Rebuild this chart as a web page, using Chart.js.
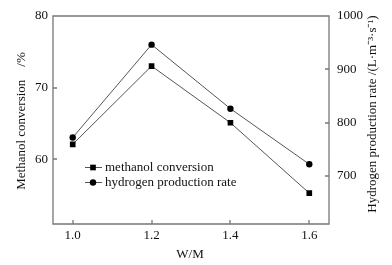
<!DOCTYPE html>
<html lang="en">
  <head>
    <meta charset="UTF-8" />
    <title>Chart</title>
    <script src="https://cdn.jsdelivr.net/npm/chart.js"></script>
    <style>
      html, body { margin: 0; padding: 0; background: #fff; }
      .chart-box { width: 392px; height: 265px; }
    </style>
  </head>
  <body>
    <div class="chart-box">
      <canvas id="myChart" width="392" height="265"></canvas>
    </div>
    <script>
      const wm = [1.0, 1.2, 1.4, 1.6];
      const methanolConversion = [62.1, 73.0, 65.1, 55.3];
      const hydrogenRate = [772, 946, 826, 722];
      const xTicks = [1.0, 1.2, 1.4, 1.6];
      const leftTicks = [60, 70, 80];
      const rightTicks = [700, 800, 900, 1000];

      const FONT = "'Liberation Serif', 'Times New Roman', serif";
      const BOX = "#777";
      const fixTicks = (list) => (scale) => {
        scale.ticks = list.map((v) => ({ value: v }));
      };

      // box, inward ticks, axis titles, legend
      const decor = {
        id: "decor",
        afterDraw(chart) {
          const c = chart.ctx;
          const sx = chart.scales.x, yl = chart.scales.y, yr = chart.scales.y2;
          const L = Math.round(yl.right), R = Math.round(yr.left);
          const T = Math.round(yl.top), B = Math.round(sx.top);
          c.save();
          c.strokeStyle = BOX;
          c.lineWidth = 1.3;
          c.beginPath();
          c.moveTo(L, T); c.lineTo(R, T); c.lineTo(R, B); c.lineTo(L, B); c.closePath();
          xTicks.forEach((v) => {
            const px = Math.round(sx.getPixelForValue(v));
            c.moveTo(px, B); c.lineTo(px, B - 4);
          });
          leftTicks.forEach((v) => {
            const py = Math.round(yl.getPixelForValue(v));
            c.moveTo(L, py); c.lineTo(L + 4, py);
          });
          rightTicks.forEach((v) => {
            const py = Math.round(yr.getPixelForValue(v));
            c.moveTo(R, py); c.lineTo(R - 4, py);
          });
          c.stroke();

          c.fillStyle = "#111";
          c.font = "13px " + FONT;
          c.textBaseline = "middle";
          // left title
          c.save();
          c.translate(22, 121);
          c.rotate(-Math.PI / 2);
          c.textAlign = "center";
          c.fillText("Methanol conversion    /%", 0, 0);
          c.restore();
          // right title
          c.save();
          c.translate(373, 114);
          c.rotate(-Math.PI / 2);
          c.textAlign = "center";
          c.fillText("Hydrogen production rate /(L\u00b7m\u207b\u00b3\u00b7s\u207b\u00b9)", 0, 0);
          c.restore();
          // x title
          c.textAlign = "center";
          c.fillText("W/M", 190, 255);

          // legend
          c.textAlign = "left";
          c.lineWidth = 1;
          chart.data.datasets.forEach((ds, i) => {
            const y = 167 + i * 15;
            c.strokeStyle = ds.borderColor;
            c.beginPath();
            c.moveTo(85, y + 0.5); c.lineTo(102, y + 0.5);
            c.stroke();
            c.fillStyle = "#000";
            Chart.helpers.drawPoint(c, {
              pointStyle: ds.pointStyle, radius: ds.pointRadius, borderWidth: 0
            }, 93, y + 0.5);
            c.fillStyle = "#111";
            c.fillText(ds.label, 105, y + 1);
          });
          c.restore();
        },
      };

      const ctx = document.getElementById("myChart");
      new Chart(ctx, {
        type: "line",
        data: {
          datasets: [
            {
              label: "methanol conversion",
              data: wm.map((x, i) => ({ x: x, y: methanolConversion[i] })),
              yAxisID: "y",
              borderColor: "#555",
              borderWidth: 1,
              pointStyle: "rect",
              pointRadius: 4,
              pointBackgroundColor: "#000",
              pointBorderWidth: 0,
              tension: 0,
            },
            {
              label: "hydrogen production rate",
              data: wm.map((x, i) => ({ x: x, y: hydrogenRate[i] })),
              yAxisID: "y2",
              borderColor: "#555",
              borderWidth: 1,
              pointStyle: "circle",
              pointRadius: 3.2,
              pointBackgroundColor: "#000",
              pointBorderWidth: 0,
              tension: 0,
            },
          ],
        },
        options: {
          responsive: false,
          animation: false,
          devicePixelRatio: 1,
          layout: { padding: { top: 15, left: 0, right: 0, bottom: 0 } },
          plugins: { legend: { display: false }, tooltip: { enabled: false } },
          scales: {
            x: {
              type: "linear",
              min: 0.95,
              max: 1.65,
              afterBuildTicks: fixTicks(xTicks),
              afterFit: (s) => { s.height = 41; },
              grid: { display: false, drawTicks: false },
              border: { display: false },
              ticks: {
                padding: 4,
                color: "#111",
                font: { family: FONT, size: 13 },
                callback: (v) => Number(v).toFixed(1),
              },
            },
            y: {
              position: "left",
              min: 51,
              max: 80,
              afterBuildTicks: fixTicks(leftTicks),
              afterFit: (s) => { s.width = 53; },
              grid: { display: false, drawTicks: false },
              border: { display: false },
              ticks: { padding: 5, color: "#111", font: { family: FONT, size: 13 }, callback: (v) => String(v) },
            },
            y2: {
              position: "right",
              min: 610,
              max: 1000,
              afterBuildTicks: fixTicks(rightTicks),
              afterFit: (s) => { s.width = 63; },
              grid: { display: false, drawTicks: false },
              border: { display: false },
              ticks: { padding: 8, color: "#111", font: { family: FONT, size: 13 }, callback: (v) => String(v) },
            },
          },
        },
        plugins: [decor],
      });
    </script>
  </body>
</html>
